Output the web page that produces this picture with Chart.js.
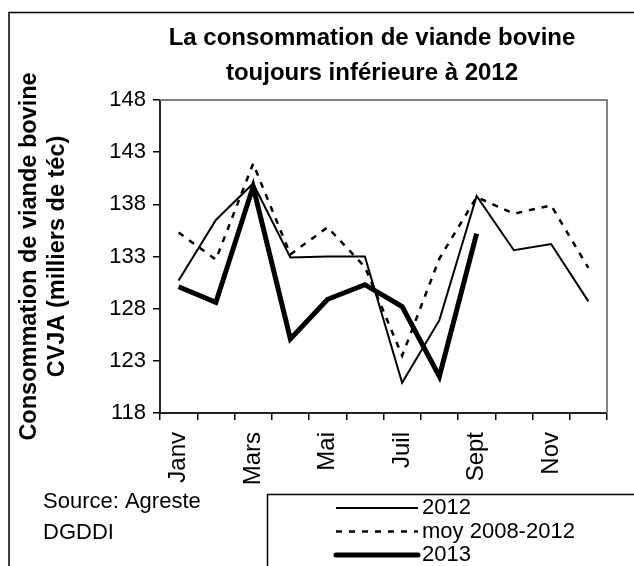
<!DOCTYPE html>
<html lang="fr">
<head>
<meta charset="utf-8">
<script src="https://cdn.jsdelivr.net/npm/chart.js@4/dist/chart.umd.min.js"></script>
<style>
  html, body { margin: 0; padding: 0; background: #fff; }
  canvas { display: block; }
</style>
</head>
<body>
<canvas id="grafico" width="634" height="566"></canvas>
<script>
// Données (milliers de téc)
const mois = ['Janv', 'Févr', 'Mars', 'Avr', 'Mai', 'Juin', 'Juil', 'Août', 'Sept', 'Oct', 'Nov', 'Déc'];
const conso2012 = [130.7, 136.5, 140.0, 132.9, 133.0, 133.0, 120.9, 126.9, 138.8, 133.6, 134.2, 128.7];
const moy2008_2012 = [135.3, 132.7, 141.9, 133.2, 135.8, 132.0, 123.5, 132.8, 138.7, 137.1, 137.9, 131.9];
const conso2013 = [130.1, 128.6, 139.7, 125.1, 128.9, 130.3, 128.2, 121.5, 135.2];
const ticksY = [118, 123, 128, 133, 138, 143, 148];

const titre = ['La consommation de viande bovine', 'toujours inférieure à 2012'];
const titreAxeY = ['Consommation de viande bovine', 'CVJA (milliers de téc)'];
const source = ['Source: Agreste', 'DGDDI'];

const police = 'Liberation Sans, Arial, sans-serif';
Chart.defaults.font.family = police;
Chart.defaults.color = '#000';

// Cadre, titre, source et légende dessinés à la main
const decor = {
    id: 'decor',
    beforeDraw(chart) {
        const c = chart.ctx;
        c.save();
        c.fillStyle = '#fff';
        c.fillRect(0, 0, chart.width, chart.height);
        c.strokeStyle = '#000';
        c.lineWidth = 1.5;
        c.strokeRect(9, 12.5, 700, 700); // cadre extérieur (coupé à droite et en bas)
        c.restore();
    },
    beforeDatasetsDraw(chart) {
        const { ctx: c, chartArea: a } = chart;
        c.save();
        c.strokeStyle = '#808080';
        c.lineWidth = 2;
        c.beginPath();
        c.moveTo(a.left, a.top);
        c.lineTo(a.right, a.top);
        c.lineTo(a.right, a.bottom);
        c.stroke();
        c.restore();
    },
    afterDraw(chart) {
        const c = chart.ctx;
        c.save();
        c.fillStyle = '#000';
        // titre
        c.font = 'bold 24px ' + police;
        c.textAlign = 'center';
        c.textBaseline = 'middle';
        c.fillText(titre[0], 372, 38);
        c.fillText(titre[1], 372, 73);
        // source
        c.font = '22px ' + police;
        c.textAlign = 'left';
        c.fillText(source[0], 43, 502);
        c.fillText(source[1], 43, 533);
        // légende
        c.strokeStyle = '#000';
        c.lineWidth = 1.5;
        c.strokeRect(267.5, 494.5, 500, 200);
        chart.data.datasets.forEach((ds, i) => {
            const y = 508 + i * 23.5;
            c.lineWidth = ds.borderWidth;
            c.setLineDash(ds.borderDash || []);
            c.lineCap = ds.borderWidth > 3 ? 'round' : 'butt';
            c.beginPath();
            c.moveTo(336, y);
            c.lineTo(418, y);
            c.stroke();
            c.setLineDash([]);
            c.fillText(ds.label, 422, y);
        });
        c.restore();
    }
};

const ctx = document.getElementById('grafico').getContext('2d');

const grafico = new Chart(ctx, {
    type: 'line',
    data: {
        labels: mois,
        datasets: [
            {
                label: '2012',
                data: conso2012,
                borderColor: '#000',
                borderWidth: 2,
                pointRadius: 0,
                fill: false
            },
            {
                label: 'moy 2008-2012',
                data: moy2008_2012,
                borderColor: '#000',
                borderWidth: 2.5,
                borderDash: [6, 7],
                pointRadius: 0,
                fill: false
            },
            {
                label: '2013',
                data: conso2013,
                borderColor: '#000',
                borderWidth: 5,
                pointRadius: 0,
                fill: false
            }
        ]
    },
    options: {
        responsive: false,
        animation: false,
        layout: { padding: { left: 9, top: 100, right: 27, bottom: 0 } },
        plugins: {
            legend: { display: false },
            title: { display: false },
            tooltip: { enabled: false }
        },
        elements: { line: { tension: 0, borderJoinStyle: 'miter' } },
        scales: {
            x: {
                offset: true,
                grid: { offset: true, drawOnChartArea: false, tickLength: 7, color: '#000', lineWidth: 1.5 },
                border: { color: '#222', width: 2 },
                ticks: {
                    autoSkip: false,
                    minRotation: 90,
                    maxRotation: 90,
                    padding: 12,
                    font: { size: 24 },
                    callback: (v, i) => (i % 2 === 0 ? mois[i] : '')
                },
                afterFit: (s) => { s.height = 153; }
            },
            y: {
                min: 118,
                max: 148,
                afterBuildTicks: (s) => { s.ticks = ticksY.map(v => ({ value: v })); },
                grid: { drawOnChartArea: false, tickLength: 7, color: '#000', lineWidth: 1.5 },
                border: { color: '#222', width: 2 },
                ticks: { padding: 7, font: { size: 22 } },
                title: {
                    display: true,
                    text: titreAxeY,
                    font: { size: 23.5, weight: 'bold' },
                    padding: { top: 6, bottom: 0 }
                },
                afterFit: (s) => { s.width = 151; }
            }
        }
    },
    plugins: [decor]
});
</script>
</body>
</html>
